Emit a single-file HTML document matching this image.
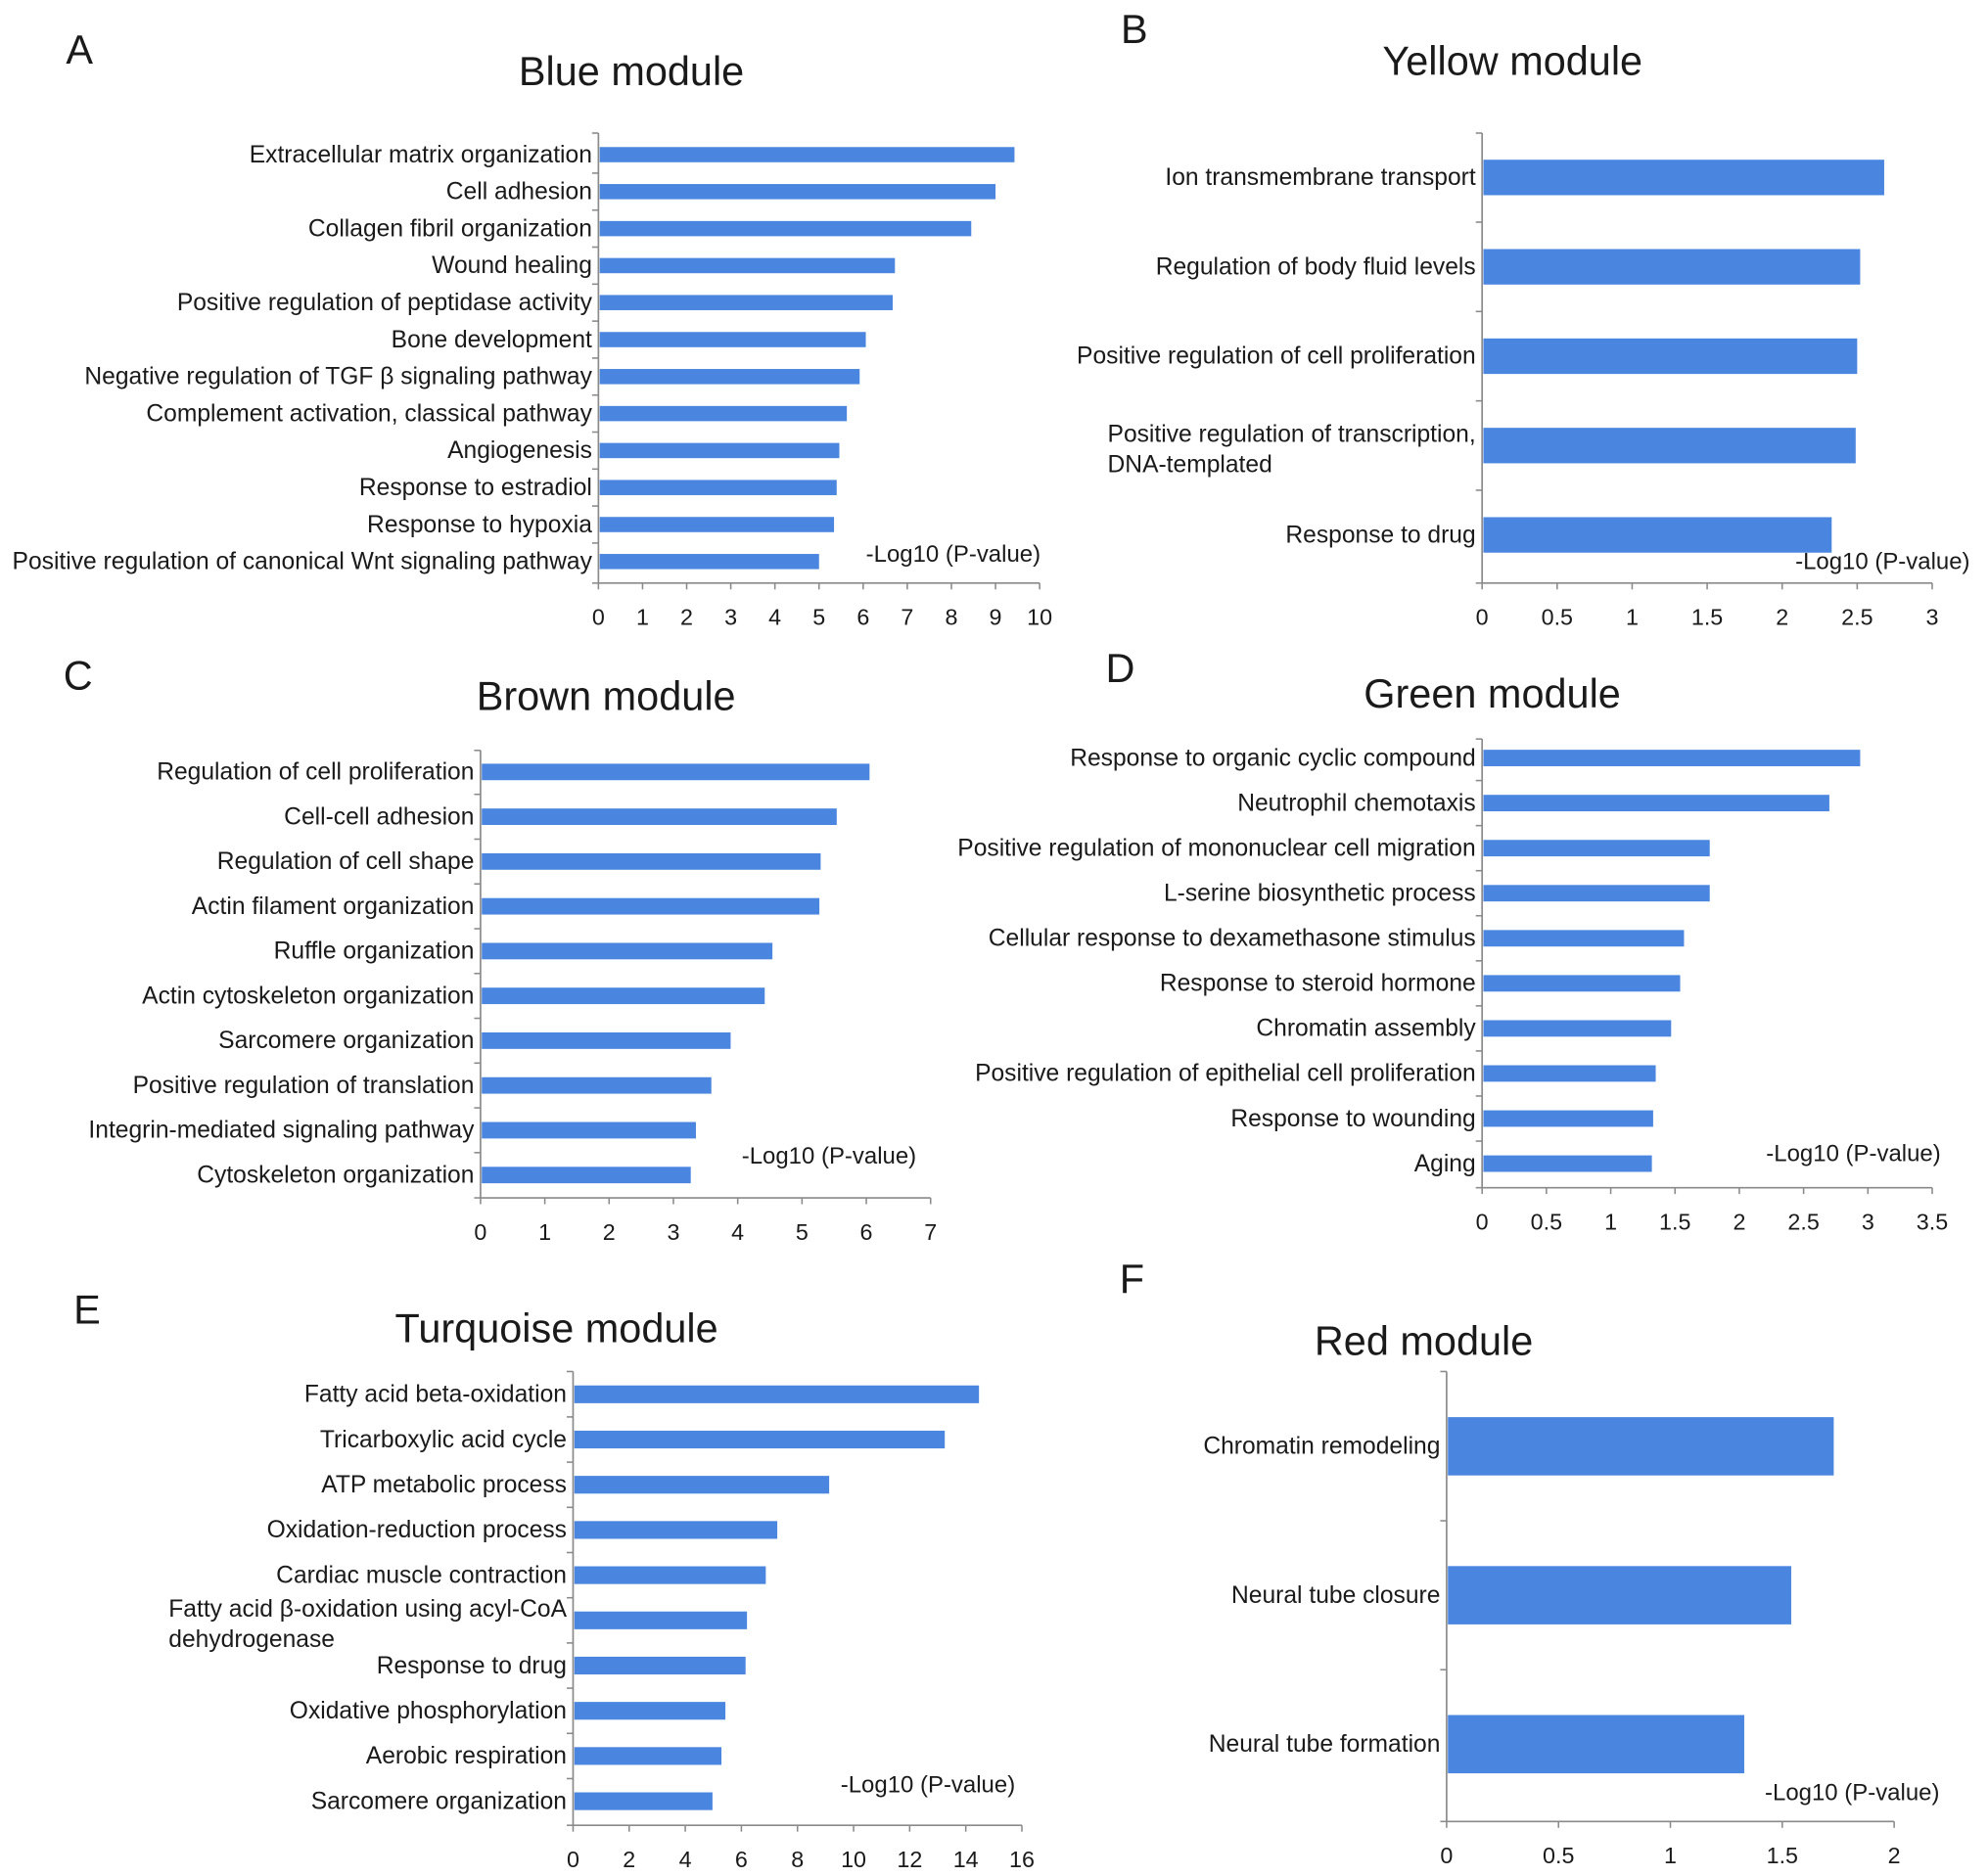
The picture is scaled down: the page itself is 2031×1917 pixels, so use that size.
<!DOCTYPE html>
<html><head><meta charset="utf-8"><style>
html,body{margin:0;padding:0;background:#fff;}
svg{display:block;}
text{font-family:"Liberation Sans",Arial,sans-serif;fill:#1a1a1a;}
</style></head><body>
<svg id="chart" width="2031" height="1917" viewBox="0 0 1568 1480" xmlns="http://www.w3.org/2000/svg"></svg>
<script>
// Panel A - Blue module
const catsA = ["Extracellular matrix organization","Cell adhesion","Collagen fibril organization","Wound healing","Positive regulation of peptidase activity","Bone development","Negative regulation of TGF β signaling pathway","Complement activation, classical pathway","Angiogenesis","Response to estradiol","Response to hypoxia","Positive regulation of canonical Wnt signaling pathway"];
const valsA = [9.43,9.0,8.45,6.72,6.67,6.06,5.92,5.63,5.46,5.4,5.34,5.0];
const ticksA = [0,1,2,3,4,5,6,7,8,9,10];
// Panel B - Yellow module
const catsB = ["Ion transmembrane transport","Regulation of body fluid levels","Positive regulation of cell proliferation","Positive regulation of transcription,|DNA-templated","Response to drug"];
const valsB = [2.68,2.52,2.5,2.49,2.33];
const ticksB = [0,0.5,1,1.5,2,2.5,3];
// Panel C - Brown module
const catsC = ["Regulation of cell proliferation","Cell-cell adhesion","Regulation of cell shape","Actin filament organization","Ruffle organization","Actin cytoskeleton organization","Sarcomere organization","Positive regulation of translation","Integrin-mediated signaling pathway","Cytoskeleton organization"];
const valsC = [6.05,5.54,5.29,5.27,4.54,4.42,3.89,3.59,3.35,3.27];
const ticksC = [0,1,2,3,4,5,6,7];
// Panel D - Green module
const catsD = ["Response to organic cyclic compound","Neutrophil chemotaxis","Positive regulation of mononuclear cell migration","L-serine biosynthetic process","Cellular response to dexamethasone stimulus","Response to steroid hormone","Chromatin assembly","Positive regulation of epithelial cell proliferation","Response to wounding","Aging"];
const valsD = [2.94,2.70,1.77,1.77,1.57,1.54,1.47,1.35,1.33,1.32];
const ticksD = [0,0.5,1,1.5,2,2.5,3,3.5];
// Panel E - Turquoise module
const catsE = ["Fatty acid beta-oxidation","Tricarboxylic acid cycle","ATP metabolic process","Oxidation-reduction process","Cardiac muscle contraction","Fatty acid β-oxidation using acyl-CoA|dehydrogenase","Response to drug","Oxidative phosphorylation","Aerobic respiration","Sarcomere organization"];
const valsE = [14.47,13.25,9.13,7.28,6.87,6.2,6.15,5.43,5.29,4.97];
const ticksE = [0,2,4,6,8,10,12,14,16];
// Panel F - Red module
const catsF = ["Chromatin remodeling","Neural tube closure","Neural tube formation"];
const valsF = [1.73,1.54,1.33];
const ticksF = [0,0.5,1,1.5,2];

const NS="http://www.w3.org/2000/svg";
const svg=document.getElementById('chart');
function mk(tag,attrs,parent){const e=document.createElementNS(NS,tag);for(const k in attrs)e.setAttribute(k,attrs[k]);(parent||svg).appendChild(e);return e;}

const panels=[
 {id:'a',letter:'A',lx:52,ly:50,title:'Blue module',tx:498,ty:67,cats:catsA,vals:valsA,ticks:ticksA,x0:472,x1:820,y0:105,yAxis:460,firstC:122,lastC:443,bh:12,lab:'-Log10 (P-value)',alx:683,aly:443},
 {id:'b',letter:'B',lx:884,ly:34,title:'Yellow module',tx:1193,ty:59,cats:catsB,vals:valsB,ticks:ticksB,x0:1169,x1:1524,y0:105,yAxis:460,firstC:140,lastC:422,bh:28,lab:'-Log10 (P-value)',alx:1416,aly:449},
 {id:'c',letter:'C',lx:50,ly:544,title:'Brown module',tx:478,ty:560,cats:catsC,vals:valsC,ticks:ticksC,x0:379,x1:734,y0:592,yAxis:945,firstC:609,lastC:927,bh:13,lab:'-Log10 (P-value)',alx:585,aly:918},
 {id:'d',letter:'D',lx:872,ly:538,title:'Green module',tx:1177,ty:558,cats:catsD,vals:valsD,ticks:ticksD,x0:1169,x1:1524,y0:583,yAxis:937,firstC:598,lastC:918,bh:13,lab:'-Log10 (P-value)',alx:1393,aly:916},
 {id:'e',letter:'E',lx:58,ly:1044,title:'Turquoise module',tx:439,ty:1059,cats:catsE,vals:valsE,ticks:ticksE,x0:452,x1:806,y0:1082,yAxis:1440,firstC:1100,lastC:1421,bh:14,lab:'-Log10 (P-value)',alx:663,aly:1414},
 {id:'f',letter:'F',lx:883,ly:1020,title:'Red module',tx:1123,ty:1069,cats:catsF,vals:valsF,ticks:ticksF,x0:1141,x1:1494,y0:1082,yAxis:1437,firstC:1141,lastC:1376,bh:46,lab:'-Log10 (P-value)',alx:1392,aly:1420}
];
panels.forEach(p=>{
 const g=mk('g',{});
 
 
 const L=mk('text',{x:p.lx,y:p.ly,'font-size':32},g);L.textContent=p.letter;
 
 
 const T=mk('text',{x:p.tx,y:p.ty,'font-size':32,'text-anchor':'middle'},g);T.textContent=p.title;
 
 
 const tmax=p.ticks[p.ticks.length-1];
 const xs=v=>p.x0+(p.x1-p.x0)*v/tmax;
 const n=p.cats.length;
 const step=n>1?(p.lastC-p.firstC)/(n-1):0;
 const yc=i=>p.firstC+step*i;
 const ya=mk('line',{x1:p.x0,x2:p.x0,y1:p.y0,y2:p.yAxis,stroke:'#8a8a8a','stroke-width':1.3},g);
 
 
 const xa=mk('line',{x1:p.x0,x2:p.x1,y1:p.yAxis,y2:p.yAxis,stroke:'#8a8a8a','stroke-width':1.3},g);
 
 
 for(let i=0;i<=n;i++){
  const y=i===0?p.y0:(i===n?p.yAxis:(yc(i-1)+yc(i))/2);
  mk('line',{x1:p.x0-5,x2:p.x0,y1:y,y2:y,stroke:'#8a8a8a','stroke-width':1.2},g);
 }
 p.ticks.forEach(t=>{
  const x=xs(t);
  mk('line',{x1:x,x2:x,y1:p.yAxis,y2:p.yAxis+5,stroke:'#8a8a8a','stroke-width':1.2},g);
  const tl=mk('text',{x:x,y:p.yAxis+33,'font-size':18,'text-anchor':'middle'},g);
  tl.textContent=String(t);
  
  
 });
 p.vals.forEach((v,i)=>{
  const y=yc(i);
  const r=mk('rect',{x:p.x0+1,y:y-p.bh/2,width:xs(v)-p.x0-1,height:p.bh,fill:'#4a86e0'},g);
  
  
  const parts=p.cats[i].split('|');
  const lab=mk('text',{'font-size':19},g);
  
  
  if(parts.length===1){
   lab.setAttribute('x',p.x0-5);lab.setAttribute('y',y+6);lab.setAttribute('text-anchor','end');
   lab.textContent=parts[0];
  } else {
   lab.setAttribute('x',p.x0-5);lab.setAttribute('y',y-3);lab.setAttribute('text-anchor','end');
   lab.textContent=parts[0];
   const w=lab.getComputedTextLength();
   const l2=mk('text',{x:p.x0-5-w,y:y+21,'font-size':19},g);
   l2.textContent=parts[1];
   
   
  }
 });
 const at=mk('text',{x:p.alx,y:p.aly,'font-size':18.5},g);
 at.textContent=p.lab;
 
 
});
</script>
</body></html>
